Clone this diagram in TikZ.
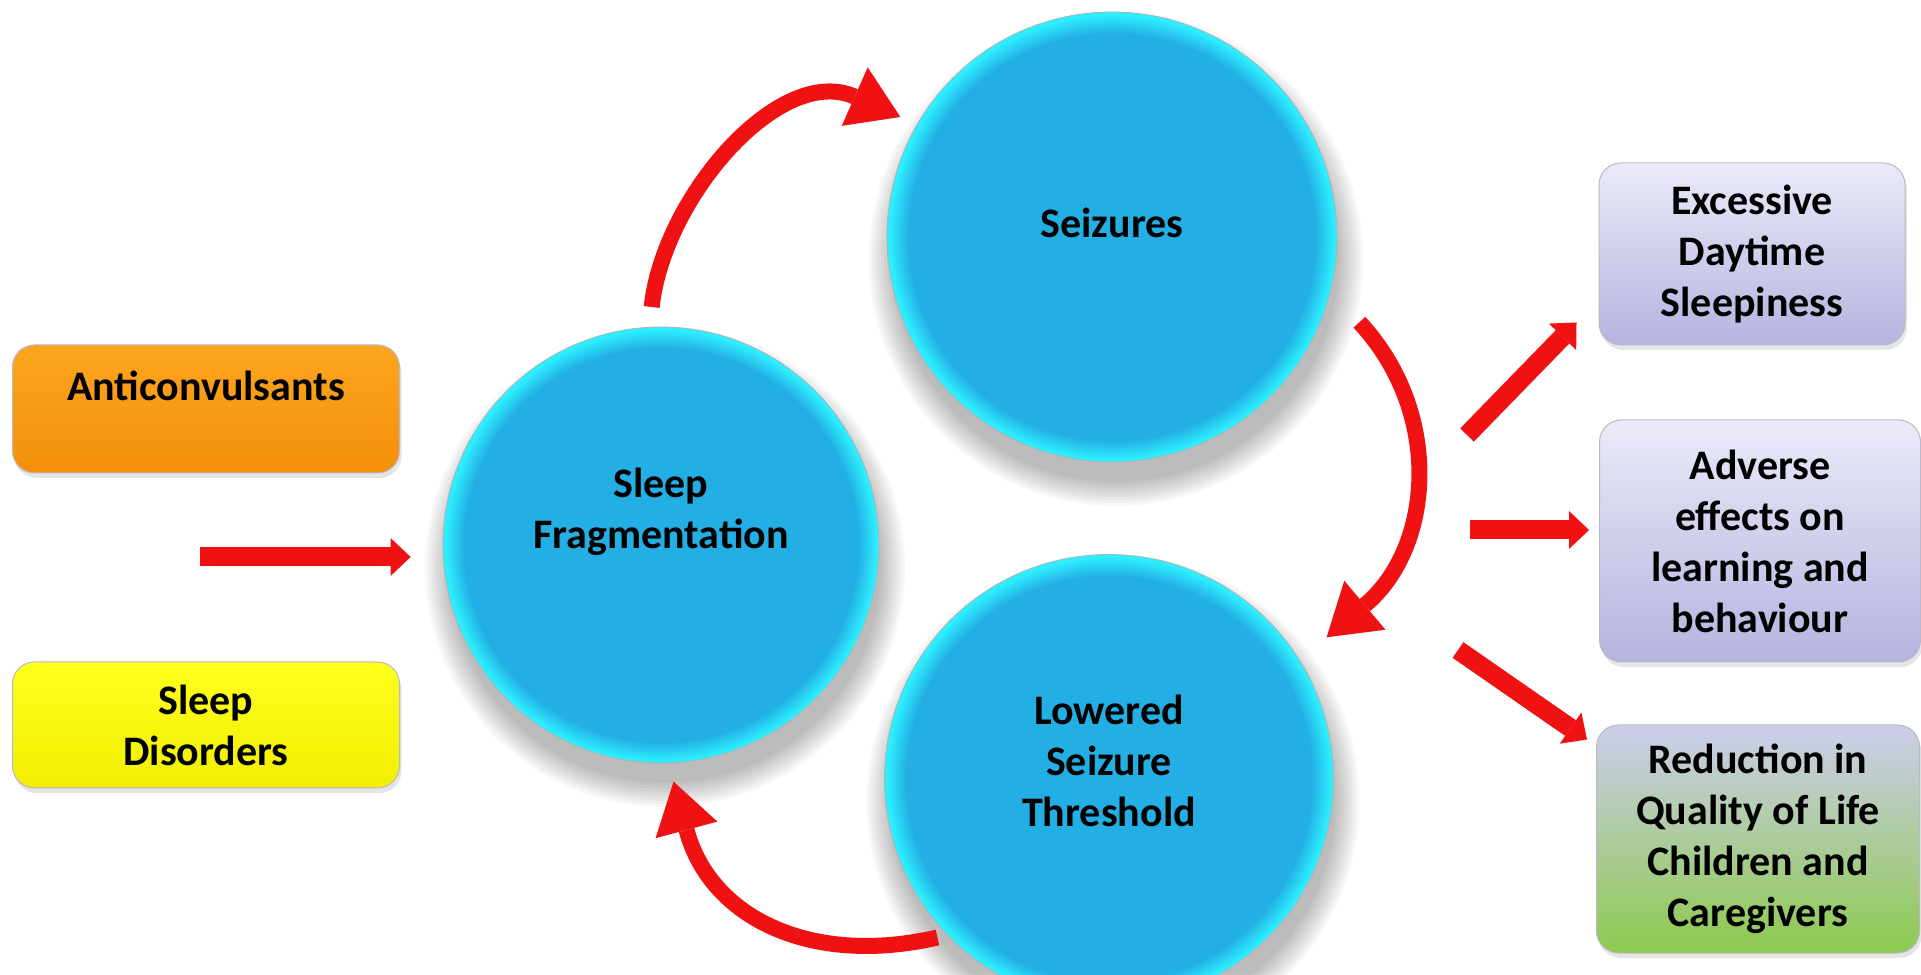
\documentclass[tikz,border=0pt]{standalone}
\usepackage{fontspec}
\setmainfont{Carlito}
\usepackage{xcolor}
\usepackage{tikz}
\usetikzlibrary{arrows.meta,positioning,calc,backgrounds,shadows}
\definecolor{cyblue}{RGB}{35,175,228}
\definecolor{cyrim}{RGB}{45,238,255}
\definecolor{antitop}{RGB}{252,165,30}
\definecolor{antibot}{RGB}{245,143,8}
\definecolor{sdtop}{RGB}{255,255,30}
\definecolor{sdbot}{RGB}{243,238,0}
\definecolor{lavtop}{RGB}{234,234,249}
\definecolor{lavbot}{RGB}{180,180,224}
\definecolor{qoltop}{RGB}{205,205,235}
\definecolor{qolbot}{RGB}{140,202,78}
\definecolor{boxedge}{RGB}{185,185,198}
\definecolor{arred}{RGB}{240,18,18}
\pgfdeclareradialshading{cyrimshade}{\pgfpoint{0bp}{0bp}}{%
  color(0bp)=(cyblue); color(22.6bp)=(cyblue); color(24.7bp)=(cyrim); color(50bp)=(cyrim)}
\tikzset{
  txt/.style={font=\fontsize{21pt}{25.5pt}\selectfont\bfseries, align=center, text=black},
  pbox/.style={
    txt, draw=boxedge, line width=0.5pt, rounded corners=11pt, inner sep=4pt,
    drop shadow={opacity=0.2, shadow xshift=1pt, shadow yshift=-2.5pt}
  },
  antibox/.style={pbox, top color=antitop, bottom color=antibot},
  sdbox/.style={pbox, top color=sdtop, bottom color=sdbot},
  effbox/.style={pbox, top color=lavtop, bottom color=lavbot},
  qolbox/.style={pbox, top color=qoltop, bottom color=qolbot},
  circ/.style={circle, shading=cyrimshade, draw=black!30, line width=0.4pt, inner sep=0pt},
  blockarr/.style={draw=arred, line width=9.5pt,
    -{Triangle[length=10pt,width=19pt,line width=0pt]}},
  cycarr/.style={draw=arred, line width=8pt,
    -{Triangle[length=25pt,width=32pt,line width=0pt]}}
}

\begin{document}
\begin{tikzpicture}[x=0.5pt,y=0.5pt]
  \useasboundingbox (0,0) rectangle (1921,974);

  % causes
  \node[antibox, minimum width=193.5pt, minimum height=64pt, text depth=23pt] (anti) at (206,565) {Anticonvulsants};
  \node[sdbox, minimum width=193.5pt, minimum height=63pt] (sdis) at (206,249) {Sleep\\Disorders};

  % the cycle
  \node[circ, minimum size=218pt] (frag) at (661,429) {};
  \node[circ, minimum size=225pt] (seiz) at (1112,737) {};
  \node[circ, minimum size=224.5pt] (lower) at (1109,195) {};
  \node[txt] (fragtxt) at ([yshift=16.5pt]frag.center) {Sleep\\Fragmentation};
  \node[txt] (seiztxt) at ([yshift=7pt]seiz.center) {Seizures};
  \node[txt] (lowertxt) at ([yshift=9pt]lower.center) {Lowered\\Seizure\\Threshold};

  \begin{scope}[on background layer]
    \fill[white] (0,0) rectangle (1921,974);
    \foreach \c/\r in {frag/109pt, seiz/112.5pt, lower/112.25pt}
      \foreach \k in {0,...,8}
        \fill[black, opacity=0.03] ([shift={(4,-22)}]\c.center) circle ({\r-1pt+\k*1.5pt});
  \end{scope}

  % effects
  \node[effbox, minimum width=153pt, minimum height=91pt] (exc) at (1752,720) {Excessive\\Daytime\\Sleepiness};
  \node[effbox, minimum width=160.5pt, minimum height=121pt] (adv) at (1760,433) {Adverse\\effects on\\learning and\\behaviour};
  \node[qolbox, minimum width=161.5pt, minimum height=114pt] (qol) at (1758,135) {Reduction in\\Quality of Life\\Children and\\Caregivers};

  \coordinate (feed) at (200,417);
  \coordinate (out1) at (1467,539);
  \coordinate (out2) at (1470,444);
  \coordinate (out3) at (1458,324);

  \draw[blockarr, shorten >=16pt] (feed) -- (feed -| frag.west);
  \draw[cycarr, shorten <=10pt, shorten >=9pt] (frag.93) .. controls +(84:130) and +(156:150) .. (seiz.150);
  \draw[cycarr, shorten <=21pt, shorten >=17.5pt] (seiz.-14) .. controls +(-47:165) and +(40:175) .. (lower.32);
  \draw[cycarr, shorten <=5pt, shorten >=9.5pt] (lower.224) .. controls +(193:140) and +(-75:160) .. (frag.-88);
  \draw[blockarr] (out1) -- ([shift={(-22,23)}]exc.south west);
  \draw[blockarr, shorten >=5pt] (out2) -- (out2 -| adv.west);
  \draw[blockarr] (out3) -- ([shift={(-9,-15)}]qol.north west);
\end{tikzpicture}
\end{document}
